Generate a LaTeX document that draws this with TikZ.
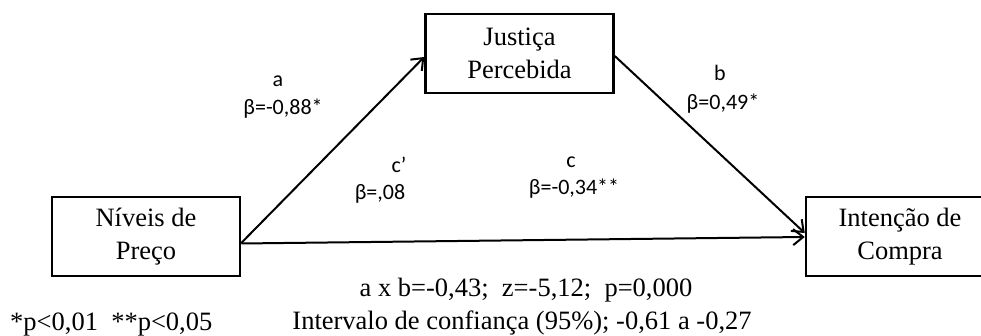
\documentclass[tikz,border=0pt]{standalone}
\usepackage{fontspec}
\setmainfont{Liberation Serif}
\newfontfamily\lblfont{Carlito}
\usetikzlibrary{arrows.meta}
\begin{document}
\begin{tikzpicture}[x=1pt,y=1pt,
  box/.style={draw, line width=2.5pt, minimum width=188pt, minimum height=79pt, inner sep=0pt, align=center, font=\fontsize{26.5}{33}\selectfont},
  conn/.style={line width=2pt, -{Straight Barb[length=10pt,width=16pt]}},
  lbl/.style={anchor=base, inner sep=0pt, font=\lblfont\fontsize{22}{26}\selectfont},
  note/.style={anchor=base, inner sep=0pt, font=\fontsize{26.5}{33}\selectfont}]
\clip (0,0) rectangle (981,336);
\node[box] (niv) at (146,99.5) {Níveis de\\Preço};
\node[box] (jus) at (519.5,282.5) {Justiça\\Percebida};
\node[box] (int) at (900,99.5) {Intenção de\\Compra};
\draw[conn] ([yshift=-6.5pt]niv.east) -- ([yshift=-3.5pt]jus.west);
\draw[conn] ([yshift=-2.5pt]jus.east) -- ([yshift=3.5pt]int.west);
\draw[conn] ([yshift=-7pt]niv.east) -- ([yshift=-0.5pt]int.west);
\node[lbl] (la) at (278,249) {a};
\node[lbl] (lab) at (283,221) {β=-0,88*};
\node[lbl] (lcp) at (399,163) {c’};
\node[lbl] (lcpb) at (380,136) {β=,08};
\node[lbl] (lc) at (571,168) {c};
\node[lbl] (lcb) at (574,141) {β=-0,34**};
\node[lbl] (lb) at (720,255) {b};
\node[lbl] (lbb) at (723,226) {β=0,49*};
\node[note] (ab) at (526,39) {a x b=-0,43;\ \ z=-5,12;\ \ p=0,000};
\node[note] (ic) at (522,6) {Intervalo de confiança (95\%); -0,61 a -0,27};
\node[note, anchor=base west] (fn) at (10,5) {*p<0,01\ \ **p<0,05};
\end{tikzpicture}
\end{document}
